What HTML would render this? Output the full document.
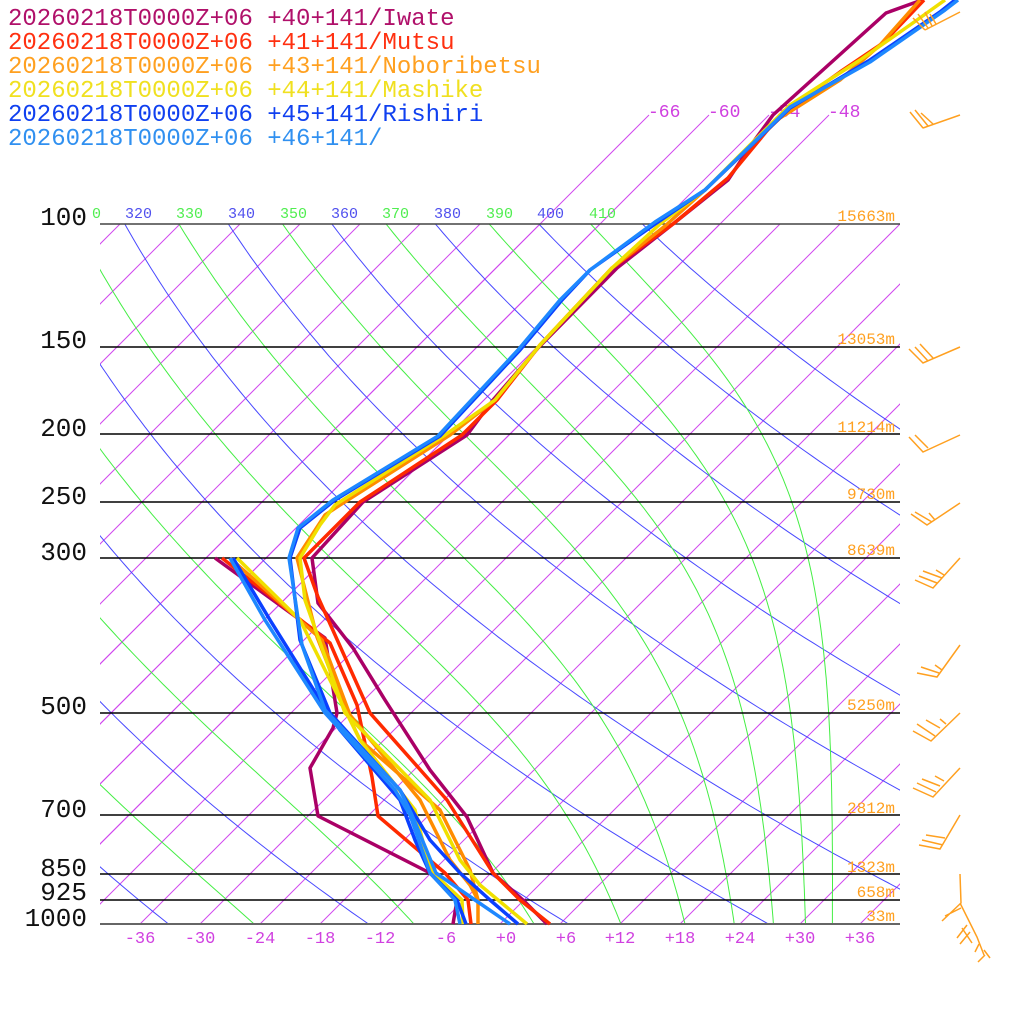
<!DOCTYPE html>
<html><head><meta charset="utf-8"><style>
html,body{margin:0;padding:0;background:#fff;}
svg{display:block;}
.lg{font-family:"Liberation Mono",monospace;font-size:24px;}
.pl{font-family:"Liberation Mono",monospace;font-size:26px;fill:#111;}
.ht{font-family:"Liberation Mono",monospace;font-size:16px;fill:#ffa020;}
.tk{font-family:"Liberation Mono",monospace;font-size:17px;fill:#d040e0;}
.th{font-family:"Liberation Mono",monospace;font-size:15px;}
.it{font-family:"Liberation Mono",monospace;font-size:18px;fill:#d040e0;}
</style></head><body>
<svg id="s" width="1024" height="1024" viewBox="0 0 1024 1024" xmlns="http://www.w3.org/2000/svg">
<defs><clipPath id="c"><rect x="100" y="224" width="800" height="700"/></clipPath>
<clipPath id="c2"><rect x="100" y="110" width="800" height="814"/></clipPath></defs>
<g id="iso" stroke="#d048ee" stroke-width="1" fill="none" clip-path="url(#c)"></g>
<g id="isoTop" stroke="#d048ee" stroke-width="1" fill="none" clip-path="url(#c2)"></g>
<g id="the" stroke-width="1" fill="none" clip-path="url(#c)"></g>
<g stroke="#000" stroke-width="1.5">
<line x1="100" y1="224" x2="900" y2="224" stroke="#444"/>
<line x1="100" y1="347" x2="900" y2="347"/>
<line x1="100" y1="434" x2="900" y2="434"/>
<line x1="100" y1="502" x2="900" y2="502"/>
<line x1="100" y1="558" x2="900" y2="558"/>
<line x1="100" y1="713" x2="900" y2="713"/>
<line x1="100" y1="815" x2="900" y2="815"/>
<line x1="100" y1="874" x2="900" y2="874"/>
<line x1="100" y1="900" x2="900" y2="900"/>
<line x1="100" y1="924" x2="900" y2="924" stroke="#666" stroke-width="2"/>
</g>
<g text-anchor="end">
<text class="pl" x="87" y="225">100</text>
<text class="pl" x="87" y="348">150</text>
<text class="pl" x="87" y="436">200</text>
<text class="pl" x="87" y="504">250</text>
<text class="pl" x="87" y="560">300</text>
<text class="pl" x="87" y="714">500</text>
<text class="pl" x="87" y="817">700</text>
<text class="pl" x="87" y="876">850</text>
<text class="pl" x="87" y="900">925</text>
<text class="pl" x="87" y="926">1000</text>
<text class="ht" x="895" y="221">15663m</text>
<text class="ht" x="895" y="344">13053m</text>
<text class="ht" x="895" y="432">11214m</text>
<text class="ht" x="895" y="499">9730m</text>
<text class="ht" x="895" y="555">8639m</text>
<text class="ht" x="895" y="710">5250m</text>
<text class="ht" x="895" y="813">2812m</text>
<text class="ht" x="895" y="872">1323m</text>
<text class="ht" x="895" y="897">658m</text>
<text class="ht" x="895" y="921">33m</text>
</g>
<g text-anchor="middle">
<text class="tk" x="140" y="943">-36</text><text class="tk" x="200" y="943">-30</text><text class="tk" x="260" y="943">-24</text><text class="tk" x="320" y="943">-18</text><text class="tk" x="380" y="943">-12</text><text class="tk" x="446" y="943">-6</text><text class="tk" x="506" y="943">+0</text><text class="tk" x="566" y="943">+6</text><text class="tk" x="620" y="943">+12</text><text class="tk" x="680" y="943">+18</text><text class="tk" x="740" y="943">+24</text><text class="tk" x="800" y="943">+30</text><text class="tk" x="860" y="943">+36</text>
</g>
<g>
<text class="th" x="92" y="218" fill="#50ee50">0</text>
<text class="th" x="125" y="218" fill="#5050ee">320</text>
<text class="th" x="176" y="218" fill="#50ee50">330</text>
<text class="th" x="228" y="218" fill="#5050ee">340</text>
<text class="th" x="280" y="218" fill="#50ee50">350</text>
<text class="th" x="331" y="218" fill="#5050ee">360</text>
<text class="th" x="382" y="218" fill="#50ee50">370</text>
<text class="th" x="434" y="218" fill="#5050ee">380</text>
<text class="th" x="486" y="218" fill="#50ee50">390</text>
<text class="th" x="537" y="218" fill="#5050ee">400</text>
<text class="th" x="589" y="218" fill="#50ee50">410</text>
<text class="it" x="648" y="117">-66</text><text class="it" x="708" y="117">-60</text><text class="it" x="768" y="117">-54</text><text class="it" x="828" y="117">-48</text>
</g>
<g fill="none" stroke-width="3.5" stroke-linejoin="round">
<polyline stroke="#aa0066" points="922,0 886,13 773,115 754,141 728,180 673,224 617,268 538,348 493,400 467,435 363,502 312,558 318,603 353,648 385,700 430,770 467,817 493,873 523,900 547,924"/>
<polyline stroke="#aa0066" points="215,558 325,638 337,713 333,728 310,768 318,816 430,873 457,900 453,924"/>
<polyline stroke="#ff2a00" points="924,0 883,43 840,72 780,115 728,178 673,224 612,268 540,345 497,400 462,435 360,502 304,558 318,597 370,713 447,800 493,873 520,900 550,924"/>
<polyline stroke="#ff2a00" points="222,558 330,643 357,705 372,777 378,816 445,873 468,900 471,924"/>
<polyline stroke="#ff8c00" points="920,0 880,45 840,80 780,118 705,190 665,226 612,268 540,345 495,400 450,435 340,505 325,515 297,558 317,637 347,713 360,740 440,810 470,870 478,900 478,924"/>
<polyline stroke="#ff8c00" points="230,558 322,640 350,715 420,800 450,860 470,885 478,900"/>
<polyline stroke="#f0e000" points="945,0 910,25 860,60 790,105 705,190 660,224 612,268 540,345 495,400 445,435 335,505 320,525 300,558 305,600 345,713 430,800 460,860 480,885 527,924"/>
<polyline stroke="#f0e000" points="237,558 300,620 340,700 360,740 415,810 425,850 433,873 462,900 463,924"/>
<polyline stroke="#0a40ff" points="955,0 940,12 870,60 790,108 705,190 655,224 590,270 562,300 520,350 440,436 335,500 300,528 290,558 300,640 330,713 400,790 430,840 460,873 490,900 518,924"/>
<polyline stroke="#0a40ff" points="233,558 270,620 320,700 340,730 400,800 415,840 430,873 457,900 466,924"/>
<polyline stroke="#1e88ff" points="958,0 945,10 870,62 790,107 705,190 655,222 590,270 560,300 518,350 438,436 333,500 298,528 289,558 302,645 325,710 400,790 412,815 436,873 475,900 510,924"/>
<polyline stroke="#1e88ff" points="230,558 265,620 325,713 395,790 410,815 430,873 455,900 460,924"/>
</g>
<g stroke="#ffa020" stroke-width="1.5" fill="none">
<path d="M960,12 L925,30 M925,30 L913,18 M928,28 L918,14 M932,26 L925,12 M936,24 L930,14"/>
<path d="M960,115 L923,128 M923,128 L910,112 M928,126 L915,110 M933,124 L921,113"/>
<path d="M960,347 L923,363 L909,349 M928,361 L915,347 M933,358 L920,344"/>
<path d="M960,435 L923,452 L909,437 M928,448 L915,435"/>
<path d="M960,503 L927,525 L911,514 M932,522 L915,512 M935,520 L929,513"/>
<path d="M960,558 L933,588 L915,580 M937,583 L919,576 M942,578 L923,571 M944,575 L936,570"/>
<path d="M960,645 L937,677 L917,673 M939,673 L921,667 M942,670 L935,665"/>
<path d="M960,713 L931,741 L913,731 M935,736 L917,724 M940,728 L926,720 M946,724 L940,719"/>
<path d="M960,768 L933,797 L913,788 M936,792 L917,783 M940,786 L922,779 M944,781 L935,776"/>
<path d="M960,815 L940,849 L919,845 M943,845 L922,840 M945,838 L926,835"/>
<path d="M960,874 L961,903 L942,921 M961,908 L945,916 M960,903 L977,937 L984,955 M962,928 L972,943 M967,925 L957,938 M970,932 L960,944 M979,944 L975,952 M985,955 L978,962 M984,950 L990,958"/>
</g>
<g class="lg">
<text x="8" y="25" fill="#b0106a">20260218T0000Z+06 +40+141/Iwate</text>
<text x="8" y="49" fill="#ff3010">20260218T0000Z+06 +41+141/Mutsu</text>
<text x="8" y="73" fill="#ffa020">20260218T0000Z+06 +43+141/Noboribetsu</text>
<text x="8" y="97" fill="#f0e020">20260218T0000Z+06 +44+141/Mashike</text>
<text x="8" y="121" fill="#1040f0">20260218T0000Z+06 +45+141/Rishiri</text>
<text x="8" y="145" fill="#3090f0">20260218T0000Z+06 +46+141/</text>
</g>
</svg>
<script>
(function(){
var NS="http://www.w3.org/2000/svg";
function Y(p){return 924-304*Math.log(1000/p);}
function line(g,x1,y1,x2,y2){var l=document.createElementNS(NS,"line");l.setAttribute("x1",x1);l.setAttribute("y1",y1);l.setAttribute("x2",x2);l.setAttribute("y2",y2);g.appendChild(l);}
var iso=document.getElementById("iso"),isoT=document.getElementById("isoTop");
for(var T=-150;T<=60;T+=6){var x0=500+10*T;line(iso,x0,924,x0+800,124);}
for(var T=-66;T<=-48;T+=6){var x0=500+10*T;line(isoT,x0,924,x0+809,115);}
function te(Tk,p){var Tc=Tk-273.15;var es=6.112*Math.exp(17.67*Tc/(Tc+243.5));if(es>p*0.5)return 1e9;var r=622*es/(p-es);return Tk*Math.pow(1000/p,0.2854*(1-0.00028*r))*Math.exp((3.376/Tk-0.00254)*r*(1+0.00081*r));}
var g=document.getElementById("the");
function add(pts,col){var pl=document.createElementNS(NS,"polyline");pl.setAttribute("points",pts.join(" "));pl.setAttribute("stroke",col);g.appendChild(pl);}
for(var th=200;th<=420;th+=10){var pts=[];var dry=(Math.round(th/10)%2==0);
for(var i=0;i<=120;i++){var p=1000*Math.exp(-i*2.31/120);var Tk;
if(dry){Tk=th*Math.pow(p/1000,0.286);}else{var lo=120,hi=340;for(var k=0;k<50;k++){var m=(lo+hi)/2;if(te(m,p)>th)hi=m;else lo=m;}Tk=(lo+hi)/2;}
var y=Y(p);var x=500+10*(Tk-273.15)+(924-y);pts.push(x.toFixed(1)+","+y.toFixed(1));}
add(pts,dry?"#4848ff":"#44ee44");}
})();
</script>
</body></html>
